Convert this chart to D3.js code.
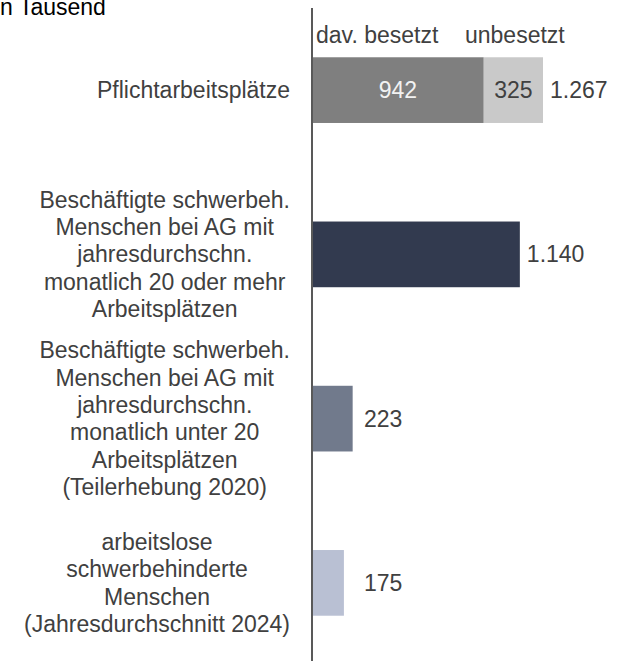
<!DOCTYPE html>
<html>
<head>
<meta charset="utf-8">
<script src="https://cdn.jsdelivr.net/npm/d3@7"></script>
<style>
  body { margin: 0; background: #fff; }
  text { font-family: "Liberation Sans", Arial, sans-serif; }
</style>
</head>
<body>
<div id="chart"></div>
<script>
// categories (wrapped as in the original)
const categories = [
    ["Pflichtarbeitsplätze"],
    ["Beschäftigte schwerbeh.", "Menschen bei AG mit", "jahresdurchschn.", "monatlich 20 oder mehr", "Arbeitsplätzen"],
    ["Beschäftigte schwerbeh.", "Menschen bei AG mit", "jahresdurchschn.", "monatlich unter 20", "Arbeitsplätzen", "(Teilerhebung 2020)"],
    ["arbeitslose", "schwerbehinderte", "Menschen", "(Jahresdurchschnitt 2024)"]
];
// first row is split in two parts
const besetzt = [942, null, null, null];
const unbesetzt = [325, null, null, null];
const totals = [1267, 1140, 223, 175];
const barColors = ["#7f7f7f", "#323a4f", "#717a8c", "#b9c0d3"];
const legendLabels = ["dav. besetzt", "unbesetzt"];

const width = 622, height = 661;
const fontSize = 23;
const lineH = 27.3;

const svg = d3.select("#chart").append("svg")
    .attr("width", width)
    .attr("height", height);

const x = d3.scaleLinear()
    .domain([0, 1267])
    .range([312, 543]);

const y = d3.scaleBand()
    .domain(d3.range(categories.length))
    .range([8, 665])
    .paddingInner(0.6)
    .paddingOuter(0.3);

const fmt = v => d3.format(",")(v).replace(/,/g, ".");

// title (cut off on the left like the original)
svg.append("text")
    .attr("x", -5).attr("y", 15)
    .attr("font-size", fontSize)
    .attr("fill", "#000")
    .text("in Tausend");

// bars
categories.forEach((c, i) => {
    if (besetzt[i] != null) {
        // stacked first row
        svg.append("rect")
            .attr("x", x(0)).attr("y", y(i))
            .attr("width", x(besetzt[i]) - x(0))
            .attr("height", y.bandwidth())
            .attr("fill", "#7f7f7f");
        svg.append("rect")
            .attr("x", x(besetzt[i])).attr("y", y(i))
            .attr("width", x(besetzt[i] + unbesetzt[i]) - x(besetzt[i]))
            .attr("height", y.bandwidth())
            .attr("fill", "#c9c9c9");
        svg.append("text")
            .attr("x", (x(0) + x(besetzt[i])) / 2)
            .attr("y", y(i) + y.bandwidth() / 2 + 8)
            .attr("text-anchor", "middle")
            .attr("font-size", fontSize)
            .attr("fill", "#f2f2f2")
            .text(fmt(besetzt[i]));
        svg.append("text")
            .attr("x", (x(besetzt[i]) + x(besetzt[i] + unbesetzt[i])) / 2)
            .attr("y", y(i) + y.bandwidth() / 2 + 8)
            .attr("text-anchor", "middle")
            .attr("font-size", fontSize)
            .attr("fill", "#404040")
            .text(fmt(unbesetzt[i]));
    } else {
        svg.append("rect")
            .attr("x", x(0)).attr("y", y(i))
            .attr("width", x(totals[i]) - x(0))
            .attr("height", y.bandwidth())
            .attr("fill", barColors[i]);
    }
    // total label
    svg.append("text")
        .attr("x", Math.max(x(totals[i]) + 7, x(0) + 52))
        .attr("y", y(i) + y.bandwidth() / 2 + 8)
        .attr("font-size", fontSize)
        .attr("fill", "#404040")
        .text(fmt(totals[i]));
});

// category labels, centred lines, block right edge near the axis
categories.forEach((lines, i) => {
    const g = svg.append("g");
    const t = g.append("text")
        .attr("font-size", fontSize)
        .attr("fill", "#404040")
        .attr("text-anchor", "middle");
    const cy = y(i) + y.bandwidth() / 2;
    lines.forEach((l, k) => {
        t.append("tspan")
            .attr("x", 0)
            .attr("y", cy + (k - (lines.length - 1) / 2) * lineH + 8)
            .text(l);
    });
    const w = t.node().getBBox().width;
    g.attr("transform", `translate(${290 - w / 2},0)`);
});

// legend above first row
svg.append("text")
    .attr("x", x(0) + 4).attr("y", 43)
    .attr("font-size", fontSize).attr("fill", "#404040")
    .text(legendLabels[0]);
svg.append("text")
    .attr("x", x(0) + 153).attr("y", 43)
    .attr("font-size", fontSize).attr("fill", "#404040")
    .text(legendLabels[1]);

// axis line
svg.append("line")
    .attr("x1", x(0)).attr("x2", x(0))
    .attr("y1", 8).attr("y2", height)
    .attr("stroke", "#595959")
    .attr("stroke-width", 2);
</script>
</body>
</html>
